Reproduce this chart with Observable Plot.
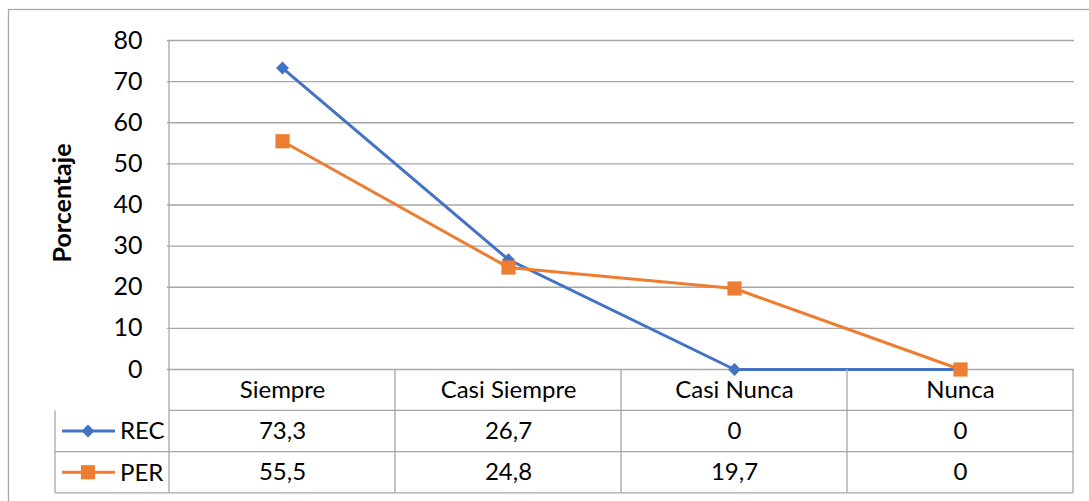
<!DOCTYPE html>
<html>
<head>
<meta charset="utf-8">
<script src="https://cdn.jsdelivr.net/npm/d3@7"></script>
<script src="https://cdn.jsdelivr.net/npm/@observablehq/plot@0.6"></script>
<style>
  html, body { margin: 0; padding: 0; background: #fff; }
</style>
</head>
<body>
<div id="chart"></div>
<script>
const categories = ["Siempre", "Casi Siempre", "Casi Nunca", "Nunca"];
const seriesNames = ["REC", "PER"];
const recValues = [73.3, 26.7, 0, 0];
const perValues = [55.5, 24.8, 19.7, 0];
const yTicks = [0, 10, 20, 30, 40, 50, 60, 70, 80];
const yLabel = "Porcentaje";
const colors = ["#4472C4", "#ED7D31"];

const data = [];
categories.forEach((c, i) => {
  data.push({category: c, series: "REC", value: recValues[i]});
  data.push({category: c, series: "PER", value: perValues[i]});
});
const fmt = v => String(v).replace(".", ",");
const recData = data.filter(d => d.series === "REC");
const perData = data.filter(d => d.series === "PER");

const W = 1089, H = 501;
const rowH = 41.3;
const FONT = "Lato, 'Open Sans', sans-serif";
const FS = 24;
const gridColor = "#a6a6a6";

const plot = Plot.plot({
  width: W,
  height: H,
  marginLeft: 167,
  marginRight: 15,
  marginTop: 40,
  marginBottom: 132,
  x: {type: "point", domain: categories, padding: 0.5, axis: null},
  y: {domain: [0, 80], axis: null},
  color: {domain: seriesNames, range: colors},
  style: {fontFamily: FONT, fontSize: FS + "px", color: "#000", background: "#fff", overflow: "visible"},
  marks: [
    Plot.ruleY(yTicks, {stroke: gridColor, strokeWidth: 1.3}),
    Plot.axisY({ticks: yTicks, tickSize: 0, tickPadding: 25, label: null, fontSize: 25, fill: "#000"}),
    Plot.text([yLabel], {frameAnchor: "left", textAnchor: "middle", rotate: -90, dx: -105, dy: -2, fontWeight: "bold", fontSize: 25, fill: "#000"}),
    Plot.line(data, {x: "category", y: "value", z: "series", stroke: "series", strokeWidth: 3}),
    Plot.dot(recData, {x: "category", y: "value", symbol: "diamond2", r: 5.8, fill: colors[0], stroke: "none"}),
    Plot.dot(perData, {x: "category", y: "value", symbol: "square", r: 8, fill: colors[1], stroke: "none"}),
    Plot.text(categories, {x: d => d, frameAnchor: "bottom", dy: rowH * 0.5, lineAnchor: "middle", fill: "#000"}),
    Plot.text(recData, {x: "category", text: d => fmt(d.value), frameAnchor: "bottom", dy: rowH * 1.5, lineAnchor: "middle", fill: "#000"}),
    Plot.text(perData, {x: "category", text: d => fmt(d.value), frameAnchor: "bottom", dy: rowH * 2.5, lineAnchor: "middle", fill: "#000"})
  ]
});

document.getElementById("chart").appendChild(plot);

// Table grid & legend samples, positioned via the plot's own scales
const xs = plot.scale("x"), ys = plot.scale("y");
const svg = d3.select(plot);
const centers = categories.map(c => xs.apply(c));
const step = centers[1] - centers[0];
const left = centers[0] - step / 2;
const right = centers[centers.length - 1] + step / 2;
const y0 = ys.apply(0);
const yTop = ys.apply(80);
const legendLeft = left - 114;

const g = svg.append("g").attr("stroke", gridColor).attr("stroke-width", 1.3).attr("fill", "none");
// outer chart border
g.append("rect").attr("x", 8.5).attr("y", 9.5).attr("width", W + 20).attr("height", H + 20);
// plot left border
g.append("line").attr("x1", left).attr("x2", left).attr("y1", yTop).attr("y2", y0 + rowH * 3);
// column dividers
for (let k = 1; k <= categories.length; k++) {
  const x = left + step * k;
  g.append("line").attr("x1", x).attr("x2", x).attr("y1", y0).attr("y2", y0 + rowH * 3);
}
// row lines
g.append("line").attr("x1", left).attr("x2", right).attr("y1", y0 + rowH).attr("y2", y0 + rowH);
g.append("line").attr("x1", legendLeft).attr("x2", right).attr("y1", y0 + rowH * 2).attr("y2", y0 + rowH * 2);
g.append("line").attr("x1", legendLeft).attr("x2", right).attr("y1", y0 + rowH * 3).attr("y2", y0 + rowH * 3);
g.append("line").attr("x1", legendLeft).attr("x2", legendLeft).attr("y1", y0 + rowH).attr("y2", y0 + rowH * 3);

// legend rows
seriesNames.forEach((name, i) => {
  const cy = y0 + rowH * (1.5 + i);
  const lg = svg.append("g");
  lg.append("line").attr("x1", legendLeft + 7).attr("x2", legendLeft + 60).attr("y1", cy).attr("y2", cy)
    .attr("stroke", colors[i]).attr("stroke-width", 3);
  const sym = i === 0 ? d3.symbolDiamond2 : d3.symbolSquare;
  const size = Math.PI * (i === 0 ? 5.8 : 8) ** 2;
  lg.append("path").attr("d", d3.symbol(sym, size)()).attr("transform", `translate(${legendLeft + 33},${cy})`)
    .attr("fill", colors[i]);
  lg.append("text").attr("x", legendLeft + 65).attr("y", cy).attr("dy", "0.35em")
    .attr("text-anchor", "start")
    .attr("font-family", FONT).attr("font-size", FS).attr("fill", "#000").text(name);
});
</script>
</body>
</html>
